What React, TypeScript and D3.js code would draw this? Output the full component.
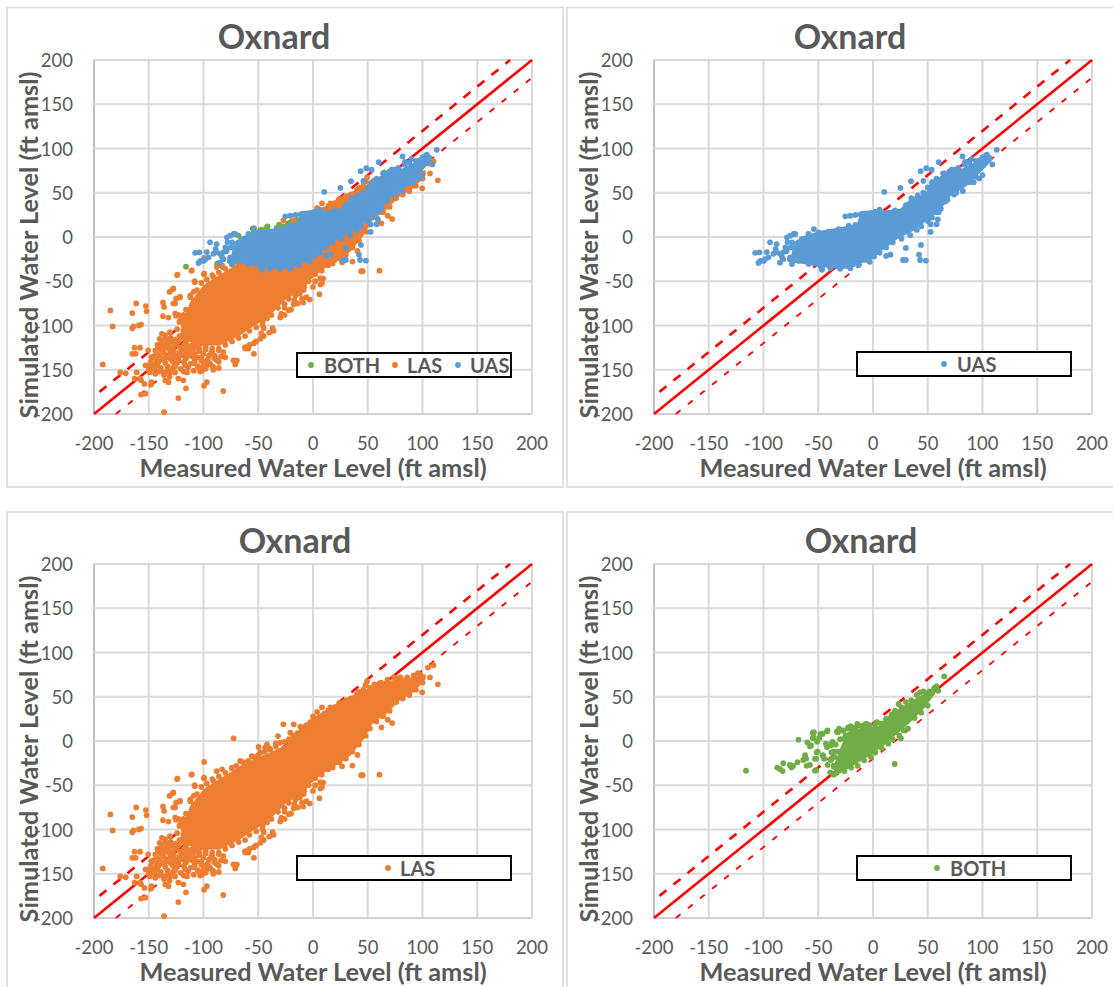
import React from 'react';
import * as d3 from 'd3';

type P = [number, number];

const TICKS = [-200, -150, -100, -50, 0, 50, 100, 150, 200];
const TITLE = 'Oxnard';
const X_TITLE = 'Measured Water Level (ft amsl)';
const Y_TITLE = 'Simulated Water Level (ft amsl)';
const COLORS: Record<string, string> = { BOTH: '#70AD47', LAS: '#ED7D31', UAS: '#5B9BD5' };

// Saturated middle of each cloud
const uasBody: P[] = [[-72.5,-6],[-63,1.5],[-48,7],[-30,11],[-14.6,14.7],[-11,29.5],[-2,30],[10,30],[25,32],[34,43],[46.5,48],[52.6,58],[61.7,69],[77,75],[92,84],[106,92],[110,88],[98,73],[86,58],[71,46.5],[62,31],[46.5,16],[37,7],[22,-2.5],[4,-19.5],[-5,-29],[-8.5,-28.7],[-20.7,-36],[-33,-36],[-48,-34],[-63.4,-30.5],[-75.6,-28.7]];
const lasBody: P[] = [[-120,-96],[-114,-80],[-112,-73],[-100,-54.5],[-91,-47],[-75.6,-35.7],[-66.5,-28],[-51,-19],[-36,-11],[-24,-3.8],[-11.6,13.5],[0.6,26.7],[15.9,38],[28,47.4],[43.3,55],[58.6,64],[77,70],[92,72],[103,75.6],[103,70],[92,55],[80,47],[68,32],[54,19],[46.4,2],[34,-16.6],[23.5,-26],[12.8,-33.5],[0.6,-44.8],[-11.5,-62],[-24,-69.6],[-36,-84.6],[-48,-96],[-66.5,-111],[-85,-122.6],[-103,-122.6],[-121.5,-115]];
const bothBody: P[] = [[-35.5,-27],[-29.5,-6.7],[-23.4,10],[-8.3,15.7],[3.8,15.7],[15.8,30.6],[31,41.8],[43,51],[56.6,58.6],[56.6,53],[46,36],[34,21],[22,8],[9.8,-5],[-2.3,-16],[-14.4,-25],[-29.5,-36.5],[-38.5,-31]];

// Individually readable points round the edges
const uasPoints: P[] = [[10.3,51],[25,55.5],[34.7,63],[43.5,74.4],[48.6,77.8],[53.5,76],[60,84.5],[46,63.4],[81.8,91],[113,98.5],[109,82],[97,66],[30,-12.3],[43.8,-9],[12,-21.4],[16,-20],[42,-20],[27.4,-26],[30,-26],[43,-26],[48.3,-26.7],[51.7,22],[52.6,14.4],[52.6,5.7],[59.3,20],[58,14.4],[-107.6,-18],[-103.7,-17.3],[-104.6,-29.4],[-100,-27],[-95.4,-23],[-94,-6],[-88,-8],[-89,-13.6],[-97,-17],[-85,-19],[-80,-11.7],[-85,-29],[-78.6,-0.4],[-71,3.4],[-54,9],[-82,-25],[-75.6,-23],[-81.7,-17],[-74,-6],[-46.6,-36],[-75.6,1.5],[-72.5,3.4],[-65,-2.3],[-59,3.4],[-49.7,5.3],[-40.5,6],[-31.4,9],[-22,12.8],[-16,13.6],[-10,16.6],[-25.3,23.4],[-20.7,24],[-16,24.9],[-11.5,25.6],[-7,26.4],[-2.4,27],[2,28.6],[6,31],[-74,-30.5],[-68,-26.8],[-58.8,-30.5],[-52.7,-26.8],[-46.6,-37],[-48,-32.4],[-39,-35.4],[-30,-36],[-20.7,-35.4],[-13,-31.7],[-4,-25],[2,-17],[-103,-27],[-98.5,-25],[-88.4,-17],[-91,-19],[-83,-23],[66,72],[72,76],[84,85],[90,88],[98,87],[104,93],[94,68],[88,62],[76,50],[68,42],[60,28],[40,44],[30,36],[54,62],
  [20,30],[35,44],[41,47],[46,50],[50,56],[54,60],[58,66],[64,72],[70,74],[74,76],[78,78],[84,82],[88,84],[94,86],[100,90],[103,92],[106,90],[100,70],[92,62],[82,52],[74,48],[66,40],[62,32],[58,28],[54,22],[50,18],[44,12],[40,8],[34,2],[26,-2],[18,-6],[12,-12],[6,-18],[1,-22],[-3,-28],[-79,-16],[-75,-12],[-78,-6],[-76,-25]];
const lasPoints: P[] = [[-185,-83],[-183,-101],[-165,-86],[-165,-103],[-164,-101],[-159,-100],[-157,-99],[-161.5,-75],[-152.6,-78],[-152,-84],[-192,-144],[-163,-125],[-158,-125],[-165,-132],[-162,-132],[-176,-153],[-171,-154],[-124,-43],[-111,-38],[-99.5,-42],[-108,-51],[-131,-62],[-128,-59],[-126,-75],[-121.5,-68],[-137,-74],[-136,-79],[-137,-89.5],[-132,-91],[-125,-89],[-121.5,-95],[-123,-182],[-116,-171],[-82,-174],[-136,-198],[-97,-164],[-99.5,-168],[-157,-178],[-153,-177],[-158,-160],[-161,-153],[-157,-162],[-163,-160],[-154,-166],[-148,-167],[-147.5,-164],[-149,-153],[-144,-154.5],[-150.5,-145],[-146,-145],[-143,-141],[-140,-122.5],[-150.5,-128],[-147.5,-136],[-135,-111],[-130.6,-107.5],[-138,-109.4],[-132,-164],[-135,-162],[-137,-153],[-130.6,-153],[-118.4,-162],[-123,-160],[-128,-141],[-126,-153],[-115,-153],[-109,-151],[-101.6,-151],[-91,-147],[-72.6,-139.5],[-69.5,-139.5],[-71,-144],[-97,-145],[-89.6,-134],[-98.6,-141.4],[-127.6,-119],[-121.5,-130],[-112,-134],[-106,-136],[-124.5,-134],[-130.6,-132],[-80,-136],[-81.8,-130],[-62,-124.4],[-59,-126],[-72.5,3],[-99.4,-23.7],[-110.7,-37.6],[-123.8,-42.5],[-99.4,-41.4],[-108,-50],[-49.7,-6.8],[-42,-3.8],[-43.6,-7.5],[-32,5.6],[-34,-2.6],[-27,18.8],[-20.7,9.4],[-17.6,18.8],[-11.5,16.2],[-7,16.2],[-2.4,21.4],[3.7,24.4],[9.2,-47],[6.8,-53.8],[0,-56.4],[5.8,-64.7],[-3,-70.7],[-9,-74],[-8.5,-60],[-17.6,-76],[-17,-71.4],[-22,-82.7],[-29,-87],[-127.5,-58],[-121.4,-67.7],[-125,-69.6],[-127.5,-75],[-112,-66],[-109,-62],[-91,-45],[-88,-34],[-83,-32],[-74,-30],[-66.5,-22.6],[-59,-22.6],[-56,-17],[-48,-13],[-39,-9.4],[-123,-88],[-126,-86.5],[-120,-92],[114,64],[106.8,71.8],[110,85.7],[105,83],[99.7,55],[95.8,76.7],[62.5,15.4],[72.3,20.3],[68.3,24],[40.6,-15.8],[36,-27.8],[26.5,-28.6],[44,-38.7],[45.4,-38.7],[60.7,-38],[49.4,67.3],[47.9,63],[42,55.6],[3.7,33],[0,27.8],[8.2,38],[15.9,38],[60,64.3],[77,70.7],[6.7,-46.6],[2,-50],[8.2,-52],
  [-112,-68],[-106,-60],[-102,-52],[-97,-48],[-92,-43],[-86,-40],[-80,-36],[-74,-31],[-70,-28],[-64,-24],[-60,-24],[-54,-18],[-50,-16],[-44,-12],[-40,-8],[-34,-6],[-30,-2],[-26,-1],[-22,2],[-18,6],[-14,9],[-10,14],[-6,18],[-3,20],[2,24],[6,27],[10,31],[14,35],[19,38],[24,43],[30,46],[35,48],[40,53],[46,58],[52,60],[56,64],[62,66],[68,69],[74,72],[80,72],[86,72],[92,74],[98,75],
  [100,66],[94,58],[88,52],[82,48],[76,44],[70,34],[64,28],[58,22],[52,14],[48,6],[42,-4],[36,-12],[30,-20],[24,-24],[18,-30],[14,-32],[8,-38],[2,-42],[-4,-50],[-8,-56],[-12,-64],[-16,-66],[-22,-70],[-26,-76],[-32,-80],[-38,-88],[-42,-92],[-46,-96],[-52,-102],[-58,-106],[-62,-112],[-68,-114],[-74,-118],[-80,-122],[-86,-126],[-92,-126],[-98,-124],[-104,-126],[-110,-122],[-116,-118],[-122,-112],[-124,-104],[-122,-96],[-118,-88],[-116,-82],
  [-36,-106],[-37,-103],[-45,-103],[-46,-100],[-48,-115],[-54,-120],[-52,-118],[-62,-126],[-58,-122],[-54,-132],[-45,-112],[-40,-108],[-47,-109],[-30,-91],[-26,-88],[-20,-82],[-26,-80],[-14,-75],[-10,-70],[-6,-68],
  [-140,-115],[-135,-115],[-130,-114],[-126,-116],[-121,-114],[-116,-120],[-142,-122],[-137,-122],[-132,-122],[-125,-122],[-118,-122],[-112,-124],[-106,-122],[-144,-128],[-138,-128],[-131,-127],[-127,-129],[-117,-128],[-112,-129],[-104,-129],[-98,-127],[-92,-129],[-86,-128],[-146,-135],[-140,-134],[-134,-136],[-126,-136],[-119,-134],[-110,-135],[-102,-136],[-95,-134],[-90,-137],[-84,-135],[-148,-141],[-141,-141],[-135,-142],[-124,-142],[-118,-141],[-112,-143],[-105,-146],[-100,-141],[-94,-143],[-86,-141],[-145,-149],[-139,-148],[-128,-148],[-121,-149],[-114,-147],[-104,-148],[-98,-149],[-91,-150],[-86,-148],[-131,-158],[-136,-156],[-150,-150],[-153,-145],
  [-138,-118],[-133,-118],[-128,-118],[-123,-118],[-141,-125],[-135,-125],[-128,-125],[-121,-125],[-115,-125],[-109,-126],[-143,-131],[-136,-131],[-129,-132],[-122,-132],[-115,-131],[-108,-132],[-100,-132],[-93,-131],[-143,-138],[-137,-138],[-130,-138],[-123,-138],[-116,-137],[-108,-139],[-102,-140],[-96,-138],[-88,-139],[-142,-145],[-133,-146],[-126,-146],[-117,-145],[-108,-143],[-100,-146],[-92,-146],[-141,-152],[-133,-151],[-118,-152],[-103,-152]];
const bothPoints: P[] = [[19.8,-26],[25.5,3],[23.4,41.8],[3.8,21.3],[-54,10],[-54,3.8],[-46,8],[-41.5,12],[-31,14],[-23.4,14],[-49,3.4],[-43,-3],[-37,-1],[-38.5,-5],[-56.6,-5],[-52,-20],[-50.6,-12],[-46,-16],[-44.6,-20],[-38.5,-21.6],[-52,-33],[-41.5,-27],[-14.4,19.4],[-6.8,19.4],[-20.4,16.8],[50.6,55],[58,62],[47.5,49],[43,55],[59.6,56.7],[-116,-33.5],[-68,1.5],[-55,9.4],[-55,3.4],[-87.5,-30],[-85,-31.6],[-82.6,-34],[-82,-25],[-76,-27],[-74.4,-30],[-73,-28],[-69,-24],[-62,-16],[-61,-20],[-60.6,-28],[-63.7,-21.4],[-57.6,-27],[-53,-33.5],[-60,-1.5],[-57.6,-6],[-51,-0.8],[-51.5,-12.8],[-53,-20],[-45.4,-16.5],[-48,8],[-42,11],[-33,10.5],[-42,-7],[-38,-3.4],[-38,-12.8],[-27,11.6],[-22.5,15.4],[-13.5,17.3],[-6,19.2],[2.8,20.3],[-39,-35.4],[-36,-27.8],[65,73],
  [50,40],[44,32],[38,26],[32,14],[28,12],[24,6],[18,2],[14,-3],[8,-8],[2,-13],[-2,-18],[-8,-22],[-14,-28],[-20,-30],[-26,-34],[-33,-36],[-36,-38],[-32,10],[-28,12],[-25,6],[-30,2],[-34,-4],[-36,-12],[-38,-20],[-35,-18],[-32,-12],[-30,-24],[-26,3],[-20,13],[-16,15],[-10,17],[-3,18],[2,18],[8,20],[12,25],[17,30],[20,34],[26,38],[30,44],[35,46],[40,52],[46,56],[52,56],[56,60]];

const BODY: Record<string, P[]> = { UAS: uasBody, LAS: lasBody, BOTH: bothBody };
const POINTS: Record<string, P[]> = { UAS: uasPoints, LAS: lasPoints, BOTH: bothPoints };

const FONT = 'Lato, sans-serif';
const GREY = '#595959';

type Entry = { name: string; mx: number; tx: number };
type PanelCfg = {
  fx: number; fy: number; fw: number; fh: number;
  left: number; top: number; titleX: number; yTitleX: number; xTitleX: number;
  box: [number, number, number, number];
  series: string[];
  legend: Entry[];
};

const PW = 438, PH = 354;
const panels: PanelCfg[] = [
  { fx: 7, fy: 7.5, fw: 556, fh: 479.5, left: 94, top: 60, titleX: 274, yTitleX: 28, xTitleX: 313, box: [297, 353, 214, 24], series: ['BOTH', 'LAS', 'UAS'],
    legend: [{ name: 'BOTH', mx: 311, tx: 324 }, { name: 'LAS', mx: 395, tx: 407 }, { name: 'UAS', mx: 458, tx: 470 }] },
  { fx: 567, fy: 7.5, fw: 560, fh: 479.5, left: 654, top: 60, titleX: 850, yTitleX: 588, xTitleX: 873, box: [857, 352, 214, 24], series: ['UAS'],
    legend: [{ name: 'UAS', mx: 944, tx: 957 }] },
  { fx: 7, fy: 512, fw: 556, fh: 490, left: 94, top: 564, titleX: 295, yTitleX: 28, xTitleX: 313, box: [297, 856, 214, 24], series: ['LAS'],
    legend: [{ name: 'LAS', mx: 388, tx: 400 }] },
  { fx: 567, fy: 512, fw: 560, fh: 490, left: 654, top: 564, titleX: 861, yTitleX: 588, xTitleX: 873, box: [857, 856, 214, 24], series: ['BOTH'],
    legend: [{ name: 'BOTH', mx: 937, tx: 950 }] },
];

function Panel({ c }: { c: PanelCfg }) {
  const x = d3.scaleLinear().domain([-200, 200]).range([c.left, c.left + PW]);
  const y = d3.scaleLinear().domain([-200, 200]).range([c.top + PH, c.top]);
  const line = d3.line<P>().x(d => x(d[0])).y(d => y(d[1]));
  const outline = d3.line<P>().x(d => x(d[0])).y(d => y(d[1])).curve(d3.curveLinearClosed);
  return (
    <g>
      <rect x={c.fx} y={c.fy} width={c.fw} height={c.fh} fill="#fff" stroke="#d9d9d9" strokeWidth={1.5} />
      <text x={c.titleX} y={c.top - 25} fontFamily={FONT} fontWeight={700} fontSize={34} fill={GREY} textAnchor="middle" dominantBaseline="central">{TITLE}</text>
      {TICKS.map(t => (
        <g key={t}>
          <line x1={x(t)} x2={x(t)} y1={y(-200)} y2={y(200)} stroke={t === -200 ? '#bfbfbf' : '#d9d9d9'} strokeWidth={2} />
          <line x1={x(-200)} x2={x(200)} y1={y(t)} y2={y(t)} stroke={t === -200 ? '#cfcfcf' : '#d9d9d9'} strokeWidth={2} />
          <text x={x(t)} y={c.top + PH + 29} fontFamily={FONT} fontSize={18.5} fill={GREY} textAnchor="middle" dominantBaseline="central">{t}</text>
          <text x={c.left - 21} y={y(t)} fontFamily={FONT} fontSize={18.5} fill={GREY} textAnchor="end" dominantBaseline="central">{t}</text>
        </g>
      ))}
      <path d={line([[-200, -200], [200, 200]]) || ''} stroke="#ff0000" strokeWidth={2.6} fill="none" />
      <path d={line([[-195, -175], [180, 200]]) || ''} stroke="#ff0000" strokeWidth={2.6} fill="none" strokeDasharray="9 9" />
      <path d={line([[-180, -200], [200, 180]]) || ''} stroke="#ff0000" strokeWidth={1.8} fill="none" strokeDasharray="6 9.5" />
      {c.series.map(s => (
        <g key={s} fill={COLORS[s]}>
          <path d={outline(BODY[s]) || ''} />
          {POINTS[s].map((p, i) => <circle key={i} cx={x(p[0])} cy={y(p[1])} r={2.9} />)}
        </g>
      ))}
      <text x={c.xTitleX} y={c.top + PH + 53} fontFamily={FONT} fontWeight={700} fontSize={25.3} fill={GREY} textAnchor="middle" dominantBaseline="central">{X_TITLE}</text>
      <text transform={`translate(${c.yTitleX},${c.top + PH / 2 + 8}) rotate(-90)`} fontFamily={FONT} fontWeight={700} fontSize={25.3} fill={GREY} textAnchor="middle" dominantBaseline="central">{Y_TITLE}</text>
      <rect x={c.box[0]} y={c.box[1]} width={c.box[2]} height={c.box[3]} fill="#fff" stroke="#000" strokeWidth={2} />
      {c.legend.map(e => (
        <g key={e.name}>
          <circle cx={e.mx} cy={c.box[1] + 12} r={2.9} fill={COLORS[e.name]} />
          <text x={e.tx} y={c.box[1] + 12} fontFamily={FONT} fontWeight={700} fontSize={20} fill={GREY} dominantBaseline="central">{e.name}</text>
        </g>
      ))}
    </g>
  );
}

export default function App() {
  return (
    <svg width={1113} height={987} style={{ position: 'absolute', left: 0, top: 0 }}>
      <rect width={1113} height={987} fill="#fff" />
      {panels.map((c, i) => <Panel key={i} c={c} />)}
    </svg>
  );
}
